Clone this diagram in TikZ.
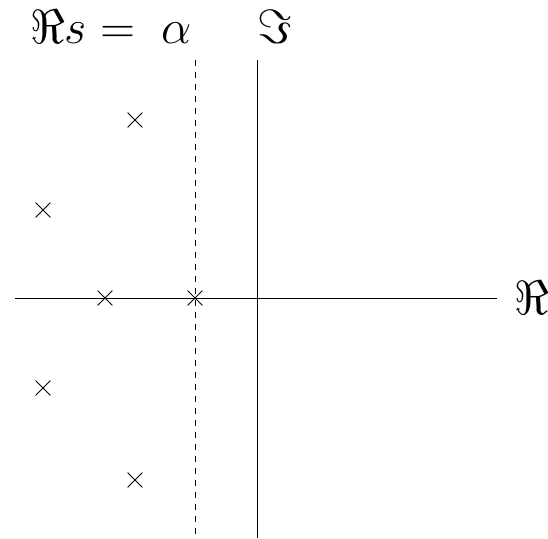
\RequirePackage{fix-cm}
\documentclass[tikz,border=0pt]{standalone}
\usetikzlibrary{shapes.misc}
\begin{document}
\begin{tikzpicture}[x=1pt,y=-1pt,
  axis/.style={line width=0.9pt},
  dashline/.style={line width=0.9pt,dash pattern=on 6pt off 6pt},
  pole/.style={cross out,draw,line width=0.8pt,minimum size=14pt,inner sep=0pt},
  biglabel/.style={inner sep=0pt,font=\fontsize{48}{56}\selectfont}]
\useasboundingbox (0,0) rectangle (548,538);
\coordinate (hl) at (15,298);
\coordinate (hr) at (497,298);
\coordinate (vt) at (257,60);
\coordinate (vb) at (257,538);
\coordinate (dt) at (195,60);
\coordinate (db) at (195,538);
\draw[axis] (hl) -- (hr);
\draw[axis] (vt) -- (vb);
\draw[dashline] (dt) -- (db);
\node[pole] (p1) at (135,120) {};
\node[pole] (p2) at (43,210) {};
\node[pole] (p3) at (105,298) {};
\node[pole] (p4) at (195,298) {};
\node[pole] (p5) at (43,388) {};
\node[pole] (p6) at (135,480) {};
\node[biglabel,anchor=base west] (lre) at (30,43) {$\Re s=\;\alpha$};
\node[biglabel,anchor=base] (lim) at (275,43) {$\Im$};
\node[biglabel,anchor=base] (lax) at (532,314) {$\Re$};
\end{tikzpicture}
\end{document}
